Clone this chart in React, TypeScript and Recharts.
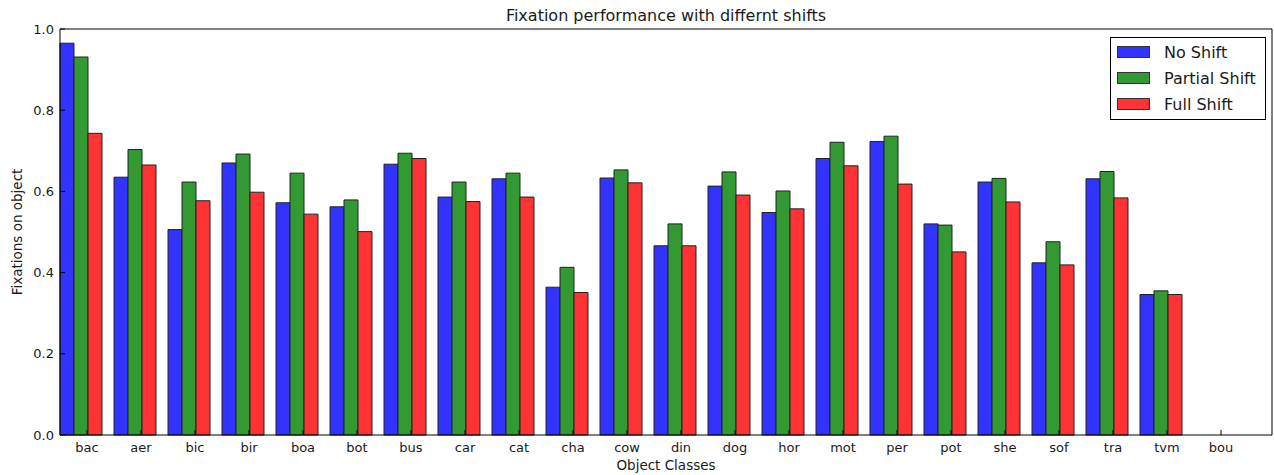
import React from "react";
import { Bar, BarChart, XAxis, YAxis, Legend } from "recharts";

const categories = [
  "bac", "aer", "bic", "bir", "boa", "bot", "bus", "car", "cat", "cha", "cow",
  "din", "dog", "hor", "mot", "per", "pot", "she", "sof", "tra", "tvm", "bou",
];
const noShift = [
  0.965, 0.635, 0.506, 0.67, 0.572, 0.562, 0.667, 0.586, 0.631, 0.364, 0.633,
  0.466, 0.613, 0.548, 0.681, 0.723, 0.52, 0.623, 0.424, 0.631, 0.346, 0,
];
const partialShift = [
  0.931, 0.703, 0.623, 0.692, 0.645, 0.579, 0.694, 0.623, 0.645, 0.413, 0.653,
  0.52, 0.648, 0.601, 0.721, 0.736, 0.517, 0.632, 0.476, 0.649, 0.355, 0,
];
const fullShift = [
  0.743, 0.665, 0.577, 0.598, 0.544, 0.501, 0.681, 0.575, 0.586, 0.351, 0.621,
  0.466, 0.591, 0.557, 0.663, 0.618, 0.451, 0.574, 0.419, 0.584, 0.346, 0,
];
const yTicks = [0, 0.2, 0.4, 0.6, 0.8, 1.0];
const seriesNames = ["No Shift", "Partial Shift", "Full Shift"];
const seriesColors = ["#3333ff", "#339933", "#ff3333"];

const data = categories.map((name, i) => ({
  name,
  noShift: noShift[i],
  partial: partialShift[i],
  full: fullShift[i],
  gap: 0,
}));

const FONT = "'DejaVu Sans', sans-serif";
const INK = "#1a1a1a";

// legend entries come from the series arrays so order matches the reference
function LegendBox() {
  return (
    <div
      style={{
        border: "1px solid #000",
        background: "#fff",
        width: 156,
        height: 83,
        boxSizing: "border-box",
        paddingTop: 1,
        fontFamily: FONT,
        fontSize: 16,
        color: INK,
      }}
    >
      {seriesNames.map((n, i) => (
        <div key={n} style={{ display: "flex", alignItems: "center", height: 26 }}>
          <span
            style={{
              display: "inline-block",
              width: 33,
              height: 12,
              marginLeft: 6,
              marginRight: 14,
              background: seriesColors[i],
              border: "1px solid #333",
              boxSizing: "border-box",
            }}
          />
          <span>{n}</span>
        </div>
      ))}
    </div>
  );
}

export default function App() {
  return (
    <div style={{ position: "absolute", left: 0, top: 0, width: 1274, height: 475, background: "#fff", fontFamily: FONT }}>
      <div
        style={{
          position: "absolute",
          left: 60,
          width: 1212,
          top: 8,
          textAlign: "center",
          fontSize: 16,
          lineHeight: "16px",
          color: INK,
        }}
      >
        Fixation performance with differnt shifts
      </div>
      <BarChart
        width={1274}
        height={475}
        data={data}
        margin={{ top: 28, right: 1, bottom: 0, left: 0 }}
        barCategoryGap={0}
        barGap={0}
      >
        <XAxis
          dataKey="name"
          height={40}
          interval={0}
          padding={{ left: 0, right: 24 }}
          tickSize={-5}
          tickMargin={13}
          stroke="#000"
          tick={{ fontSize: 13, fill: INK, fontFamily: FONT }}
          label={{ value: "Object Classes", position: "insideBottom", offset: 5, fontSize: 13.5, fill: INK, fontFamily: FONT }}
        />
        <XAxis
          xAxisId="top"
          orientation="top"
          dataKey="name"
          height={1}
          interval={0}
          padding={{ left: 0, right: 24 }}
          tickSize={-5}
          tick={false}
          stroke="#000"
        />
        <YAxis
          width={60}
          domain={[0, 1]}
          ticks={yTicks}
          interval={0}
          tickSize={-5}
          tickMargin={11}
          stroke="#000"
          tickFormatter={(v: number) => v.toFixed(1)}
          tick={{ fontSize: 13, fill: INK, fontFamily: FONT }}
          label={{
            value: "Fixations on object",
            angle: -90,
            position: "insideLeft",
            offset: 17,
            fontSize: 13.5,
            fill: INK,
            fontFamily: FONT,
            style: { textAnchor: "middle" },
          }}
        />
        <YAxis
          yAxisId="right"
          orientation="right"
          width={1}
          domain={[0, 1]}
          ticks={yTicks}
          interval={0}
          tickSize={-5}
          tick={false}
          stroke="#000"
        />
        <Legend
          layout="vertical"
          align="center"
          verticalAlign="middle"
          content={<LegendBox />}
          wrapperStyle={{ position: "absolute", left: 1110, top: 37, width: "auto", height: "auto" }}
        />
        <Bar dataKey="noShift" name={seriesNames[0]} fill={seriesColors[0]} stroke="#222" strokeWidth={1} isAnimationActive={false} />
        <Bar dataKey="partial" name={seriesNames[1]} fill={seriesColors[1]} stroke="#222" strokeWidth={1} isAnimationActive={false} />
        <Bar dataKey="full" name={seriesNames[2]} fill={seriesColors[2]} stroke="#222" strokeWidth={1} isAnimationActive={false} />
        <Bar dataKey="gap" fill="none" stroke="none" legendType="none" isAnimationActive={false} />
      </BarChart>
    </div>
  );
}
